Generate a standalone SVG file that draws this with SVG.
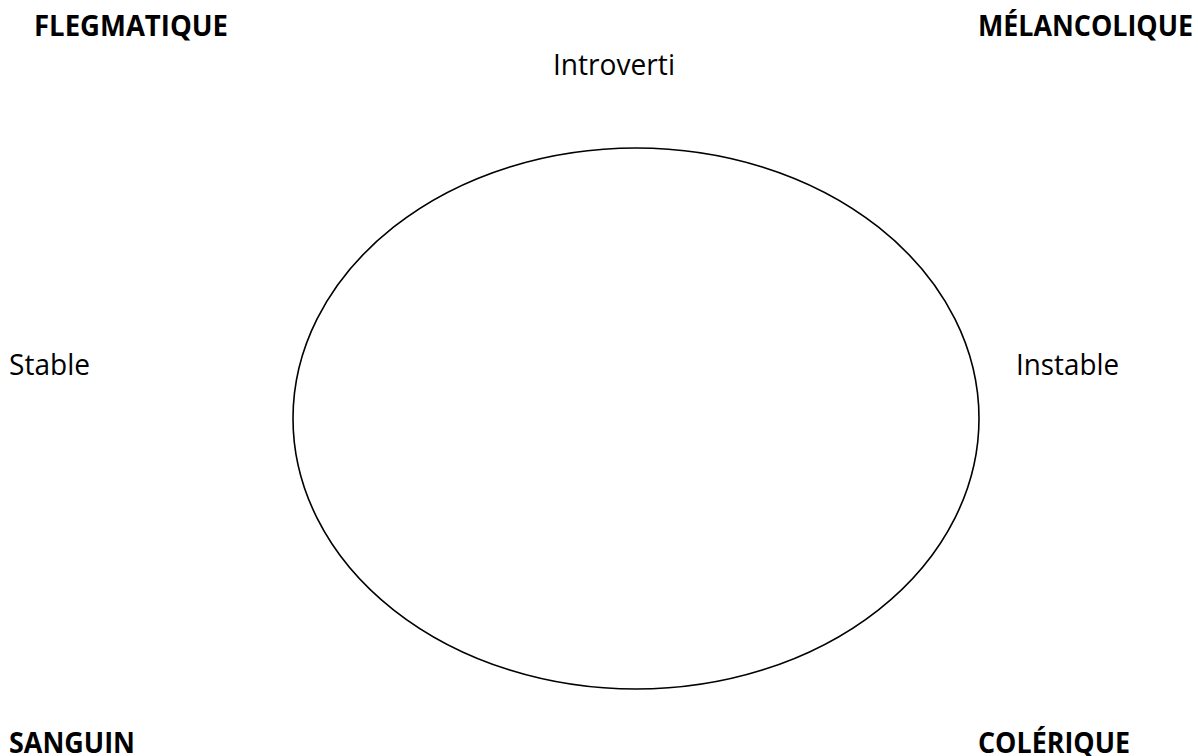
<svg xmlns="http://www.w3.org/2000/svg" width="1198" height="756" viewBox="0 0 1198 756">
<style>
.t{font-family:"Open Sans","Liberation Sans",sans-serif;font-size:29px;fill:#000}
.b{font-weight:bold}
</style>
<rect width="1198" height="756" fill="#fff"/>
<g id="ellipse">
<ellipse cx="636" cy="418.5" rx="343" ry="270.5" fill="none" stroke="#000" stroke-width="1.6"/>
</g>
<g id="flegmatique"><text class="t b" x="34" y="36" textLength="194" lengthAdjust="spacingAndGlyphs">FLEGMATIQUE</text></g>
<g id="melancolique"><text class="t b" x="978" y="36" textLength="215" lengthAdjust="spacingAndGlyphs">MÉLANCOLIQUE</text></g>
<g id="introverti"><text class="t" x="553" y="75" textLength="122" lengthAdjust="spacingAndGlyphs">Introverti</text></g>
<g id="stable"><text class="t" x="9" y="375" textLength="81" lengthAdjust="spacingAndGlyphs">Stable</text></g>
<g id="instable"><text class="t" x="1016" y="375" textLength="103" lengthAdjust="spacingAndGlyphs">Instable</text></g>
<g id="sanguin"><text class="t b" x="9" y="753" textLength="126" lengthAdjust="spacingAndGlyphs">SANGUIN</text></g>
<g id="colerique"><text class="t b" x="978" y="753" textLength="152" lengthAdjust="spacingAndGlyphs">COLÉRIQUE</text></g>
<g id="connectors"></g>
</svg>
